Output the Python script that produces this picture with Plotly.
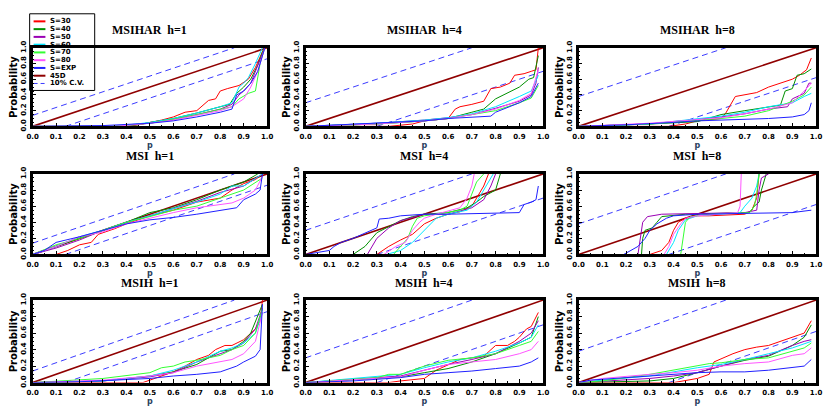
import plotly.graph_objects as go

# ---------------- data ----------------
SERIES = ["S=30", "S=40", "S=50", "S=60", "S=70", "S=80", "S=EXP"]
COLORS = ["#ff0000", "#009000", "#9a00b4", "#00e5ff", "#33ff33", "#ff55ff", "#2020ff"]
LINE_45_COLOR = "#900000"
CV_COLOR = "#3c3cff"
MODELS = ["MSIHAR", "MSI", "MSIH"]
HORIZONS = [1, 4, 8]
CV_HALFWIDTH = [0.14, 0.30, 0.38]   # 10% critical value band per horizon
P_TICKS = [0.0, 0.1, 0.2, 0.3, 0.4, 0.5, 0.6, 0.7, 0.8, 0.9, 1.0]
PROB_TICKS = [0.0, 0.2, 0.4, 0.6, 0.8, 1.0]

msihar_h1 = {
    "S=30": ([0, 0.4, 0.45, 0.5, 0.55, 0.6, 0.65, 0.7, 0.75, 0.78, 0.8, 0.83, 0.88, 0.92, 0.95, 0.98, 0.99],
             [0, 0, 0.02, 0.05, 0.08, 0.12, 0.18, 0.2, 0.33, 0.35, 0.45, 0.48, 0.52, 0.6, 0.75, 0.95, 1.0]),
    "S=40": ([0, 0.35, 0.45, 0.5, 0.6, 0.7, 0.8, 0.84, 0.87, 0.9, 0.93, 0.96, 0.98, 0.99],
             [0, 0, 0.02, 0.05, 0.1, 0.17, 0.25, 0.28, 0.42, 0.5, 0.6, 0.78, 0.95, 1.0]),
    "S=50": ([0, 0.35, 0.5, 0.6, 0.7, 0.8, 0.85, 0.88, 0.9, 0.93, 0.97, 0.99],
             [0, 0, 0.04, 0.09, 0.15, 0.22, 0.28, 0.4, 0.45, 0.55, 0.85, 1.0]),
    "S=60": ([0, 0.35, 0.5, 0.6, 0.7, 0.8, 0.85, 0.88, 0.9, 0.92, 0.95, 0.98],
             [0, 0, 0.05, 0.1, 0.17, 0.25, 0.3, 0.5, 0.55, 0.62, 0.8, 1.0]),
    "S=70": ([0, 0.35, 0.5, 0.6, 0.7, 0.8, 0.85, 0.88, 0.92, 0.95, 0.97, 0.99],
             [0, 0, 0.04, 0.09, 0.15, 0.22, 0.25, 0.35, 0.42, 0.45, 0.8, 1.0]),
    "S=80": ([0, 0.35, 0.5, 0.6, 0.7, 0.8, 0.85, 0.9, 0.93, 0.96, 0.99],
             [0, 0, 0.04, 0.08, 0.14, 0.2, 0.25, 0.35, 0.5, 0.7, 1.0]),
    "S=EXP": ([0, 0.3, 0.5, 0.6, 0.7, 0.8, 0.85, 0.87, 0.9, 0.93, 0.96, 0.99],
              [0, 0.01, 0.04, 0.07, 0.12, 0.18, 0.22, 0.4, 0.45, 0.55, 0.7, 1.0]),
}

msihar_h4 = {
    "S=30": ([0, 0.35, 0.45, 0.5, 0.6, 0.63, 0.65, 0.7, 0.75, 0.78, 0.82, 0.86, 0.88, 0.92, 0.95, 0.97, 0.98],
             [0, 0, 0.03, 0.07, 0.1, 0.22, 0.25, 0.28, 0.32, 0.48, 0.5, 0.55, 0.65, 0.67, 0.7, 0.72, 1.0]),
    "S=40": ([0, 0.3, 0.5, 0.6, 0.7, 0.75, 0.8, 0.85, 0.9, 0.94, 0.96, 0.98],
             [0, 0.03, 0.07, 0.1, 0.18, 0.22, 0.35, 0.42, 0.5, 0.6, 0.62, 0.9]),
    "S=50": ([0, 0.3, 0.5, 0.6, 0.7, 0.8, 0.9, 0.95, 0.97, 0.98],
             [0, 0.04, 0.08, 0.11, 0.15, 0.23, 0.32, 0.4, 0.55, 0.75]),
    "S=60": ([0, 0.3, 0.5, 0.6, 0.7, 0.8, 0.9, 0.95, 0.98],
             [0, 0.04, 0.08, 0.11, 0.16, 0.25, 0.38, 0.45, 0.65]),
    "S=70": ([0, 0.3, 0.5, 0.6, 0.7, 0.8, 0.9, 0.95, 0.98],
             [0, 0.03, 0.07, 0.1, 0.15, 0.2, 0.3, 0.36, 0.52]),
    "S=80": ([0, 0.3, 0.5, 0.6, 0.7, 0.8, 0.9, 0.95, 0.98],
             [0, 0.03, 0.07, 0.1, 0.15, 0.22, 0.33, 0.42, 0.72]),
    "S=EXP": ([0, 0.3, 0.5, 0.6, 0.7, 0.78, 0.8, 0.9, 0.95, 0.98],
              [0, 0.04, 0.07, 0.1, 0.12, 0.13, 0.18, 0.3, 0.38, 0.55]),
}

msihar_h8 = {
    "S=30": ([0, 0.38, 0.45, 0.5, 0.6, 0.62, 0.66, 0.7, 0.75, 0.8, 0.85, 0.88, 0.9, 0.93, 0.96, 0.98],
             [0, 0, 0.03, 0.07, 0.1, 0.17, 0.38, 0.4, 0.43, 0.5, 0.55, 0.58, 0.6, 0.65, 0.72, 0.87]),
    "S=40": ([0, 0.3, 0.5, 0.6, 0.7, 0.8, 0.85, 0.87, 0.9, 0.92, 0.95, 0.98],
             [0, 0.03, 0.06, 0.15, 0.2, 0.25, 0.27, 0.45, 0.48, 0.65, 0.67, 0.73]),
    "S=50": ([0, 0.3, 0.6, 0.7, 0.8, 0.88, 0.9, 0.95, 0.97, 0.98],
             [0, 0.03, 0.12, 0.16, 0.22, 0.25, 0.35, 0.42, 0.55, 0.55]),
    "S=60": ([0, 0.3, 0.6, 0.7, 0.8, 0.9, 0.95, 0.98],
             [0, 0.03, 0.13, 0.18, 0.25, 0.3, 0.38, 0.42]),
    "S=70": ([0, 0.3, 0.6, 0.7, 0.8, 0.9, 0.95, 0.98],
             [0, 0.03, 0.1, 0.13, 0.2, 0.32, 0.4, 0.5]),
    "S=80": ([0, 0.3, 0.6, 0.7, 0.8, 0.9, 0.95, 0.98],
             [0, 0.04, 0.11, 0.16, 0.22, 0.3, 0.45, 0.55]),
    "S=EXP": ([0, 0.2, 0.4, 0.5, 0.6, 0.8, 0.9, 0.95, 0.97, 0.98],
              [0, 0.02, 0.05, 0.07, 0.08, 0.1, 0.12, 0.15, 0.2, 0.3]),
}

msi_h1 = {
    "S=30": ([0, 0.1, 0.15, 0.2, 0.25, 0.28, 0.35, 0.4, 0.5, 0.6, 0.7, 0.8, 0.85, 0.9, 0.95, 0.98],
             [0, 0, 0.05, 0.12, 0.15, 0.25, 0.32, 0.38, 0.48, 0.55, 0.65, 0.7, 0.8, 0.88, 0.93, 1.0]),
    "S=40": ([0, 0.1, 0.2, 0.3, 0.4, 0.5, 0.6, 0.7, 0.8, 0.9, 0.96],
             [0, 0.1, 0.2, 0.3, 0.4, 0.52, 0.58, 0.68, 0.8, 0.9, 1.0]),
    "S=50": ([0, 0.1, 0.2, 0.3, 0.4, 0.5, 0.6, 0.7, 0.8, 0.9, 0.98],
             [0, 0.08, 0.18, 0.3, 0.4, 0.48, 0.57, 0.66, 0.77, 0.85, 1.0]),
    "S=60": ([0, 0.1, 0.2, 0.3, 0.4, 0.5, 0.6, 0.7, 0.8, 0.85, 0.9, 0.98],
             [0, 0.1, 0.22, 0.3, 0.4, 0.48, 0.57, 0.65, 0.75, 0.85, 0.85, 1.0]),
    "S=70": ([0, 0.1, 0.2, 0.3, 0.4, 0.5, 0.6, 0.7, 0.8, 0.9, 0.98],
             [0, 0.12, 0.2, 0.3, 0.4, 0.47, 0.55, 0.6, 0.7, 0.8, 0.95]),
    "S=80": ([0, 0.1, 0.2, 0.3, 0.4, 0.5, 0.6, 0.7, 0.8, 0.85, 0.9, 0.95, 0.98],
             [0, 0.1, 0.22, 0.28, 0.38, 0.45, 0.52, 0.58, 0.62, 0.64, 0.7, 0.8, 0.97]),
    "S=EXP": ([0, 0.05, 0.1, 0.2, 0.3, 0.4, 0.5, 0.6, 0.7, 0.8, 0.87, 0.9, 0.95, 0.97, 0.98],
              [0, 0.05, 0.15, 0.22, 0.3, 0.38, 0.43, 0.46, 0.5, 0.55, 0.58, 0.68, 0.75, 0.8, 1.0]),
}

msi_h4 = {
    "S=30": ([0.3, 0.35, 0.4, 0.45, 0.5, 0.55, 0.6, 0.65, 0.7, 0.72, 0.75, 0.77],
             [0, 0.1, 0.18, 0.25, 0.38, 0.45, 0.5, 0.53, 0.6, 0.7, 0.85, 1.0]),
    "S=40": ([0.2, 0.25, 0.3, 0.35, 0.4, 0.45, 0.5, 0.6, 0.68, 0.72, 0.75, 0.8, 0.82],
             [0, 0.1, 0.27, 0.35, 0.42, 0.47, 0.5, 0.52, 0.58, 0.65, 0.72, 0.8, 1.0]),
    "S=50": ([0.26, 0.3, 0.35, 0.4, 0.45, 0.5, 0.6, 0.7, 0.75, 0.78, 0.8],
             [0, 0.2, 0.33, 0.42, 0.46, 0.5, 0.5, 0.58, 0.68, 0.85, 1.0]),
    "S=60": ([0.34, 0.4, 0.45, 0.5, 0.55, 0.6, 0.68, 0.72, 0.76, 0.79],
             [0, 0.05, 0.15, 0.3, 0.45, 0.5, 0.55, 0.65, 0.85, 1.0]),
    "S=70": ([0.37, 0.4, 0.43, 0.45, 0.47, 0.5, 0.55, 0.65, 0.68, 0.7, 0.72, 0.75],
             [0, 0.1, 0.2, 0.35, 0.45, 0.48, 0.5, 0.55, 0.6, 0.75, 0.9, 1.0]),
    "S=80": ([0.33, 0.38, 0.42, 0.45, 0.48, 0.5, 0.55, 0.65, 0.68, 0.7, 0.71],
             [0, 0.1, 0.15, 0.3, 0.4, 0.45, 0.5, 0.58, 0.7, 0.85, 1.0]),
    "S=EXP": ([0, 0.1, 0.12, 0.15, 0.2, 0.25, 0.3, 0.31, 0.35, 0.4, 0.5, 0.6, 0.9, 0.92, 0.95, 0.97, 0.98],
              [0, 0.05, 0.1, 0.15, 0.2, 0.27, 0.33, 0.44, 0.45, 0.48, 0.5, 0.5, 0.52, 0.62, 0.65, 0.68, 0.85]),
}

msi_h8 = {
    "S=30": ([0.3, 0.35, 0.38, 0.4, 0.42, 0.45, 0.5, 0.55, 0.7, 0.73, 0.75, 0.76],
             [0, 0.05, 0.15, 0.3, 0.4, 0.45, 0.48, 0.48, 0.5, 0.55, 0.7, 1.0]),
    "S=40": ([0.265, 0.27, 0.28, 0.31, 0.33, 0.35, 0.45, 0.72, 0.74, 0.76, 0.77, 0.79],
             [0, 0.2, 0.3, 0.33, 0.4, 0.47, 0.5, 0.52, 0.6, 0.65, 0.8, 1.0]),
    "S=50": ([0.25, 0.26, 0.27, 0.29, 0.35, 0.7, 0.75, 0.76, 0.77, 0.8],
             [0, 0.2, 0.4, 0.47, 0.5, 0.52, 0.55, 0.8, 0.95, 1.0]),
    "S=60": ([0.37, 0.4, 0.42, 0.45, 0.5, 0.68, 0.7, 0.73, 0.75, 0.76],
             [0, 0.15, 0.3, 0.43, 0.48, 0.52, 0.6, 0.7, 0.85, 1.0]),
    "S=70": ([0.43, 0.44, 0.45, 0.47, 0.55, 0.72, 0.74, 0.75, 0.76],
             [0, 0.2, 0.4, 0.47, 0.5, 0.52, 0.6, 0.75, 1.0]),
    "S=80": ([0.36, 0.38, 0.4, 0.43, 0.45, 0.5, 0.67, 0.68, 0.685],
             [0, 0.1, 0.25, 0.38, 0.45, 0.48, 0.52, 0.6, 1.0]),
    "S=EXP": ([0.19, 0.22, 0.25, 0.28, 0.3, 0.33, 0.37, 0.4, 0.5, 0.9, 0.98],
              [0, 0.05, 0.1, 0.2, 0.3, 0.38, 0.45, 0.48, 0.5, 0.52, 0.55]),
}

msih_h1 = {
    "S=30": ([0, 0.47, 0.5, 0.6, 0.65, 0.7, 0.75, 0.78, 0.82, 0.85, 0.9, 0.95, 0.97, 0.98],
             [0, 0, 0.03, 0.13, 0.2, 0.28, 0.33, 0.4, 0.45, 0.45, 0.52, 0.65, 0.75, 1.0]),
    "S=40": ([0, 0.3, 0.5, 0.6, 0.7, 0.75, 0.8, 0.85, 0.9, 0.93, 0.96, 0.98],
             [0, 0.02, 0.08, 0.13, 0.22, 0.3, 0.38, 0.4, 0.5, 0.6, 0.8, 0.95]),
    "S=50": ([0, 0.3, 0.5, 0.6, 0.7, 0.8, 0.85, 0.9, 0.95, 0.98],
             [0, 0.02, 0.07, 0.12, 0.25, 0.35, 0.4, 0.48, 0.65, 0.9]),
    "S=60": ([0, 0.3, 0.5, 0.6, 0.7, 0.8, 0.85, 0.9, 0.95, 0.98],
             [0, 0.02, 0.08, 0.15, 0.25, 0.38, 0.42, 0.48, 0.6, 0.85]),
    "S=70": ([0, 0.3, 0.5, 0.55, 0.6, 0.65, 0.7, 0.75, 0.8, 0.85, 0.9, 0.95, 0.98],
             [0, 0.05, 0.12, 0.18, 0.2, 0.25, 0.27, 0.3, 0.33, 0.4, 0.45, 0.6, 0.9]),
    "S=80": ([0, 0.3, 0.5, 0.6, 0.7, 0.8, 0.85, 0.9, 0.95, 0.98],
             [0, 0.03, 0.08, 0.12, 0.2, 0.25, 0.28, 0.35, 0.5, 0.85]),
    "S=EXP": ([0, 0.2, 0.5, 0.6, 0.7, 0.8, 0.87, 0.9, 0.95, 0.97, 0.98],
              [0, 0.01, 0.05, 0.08, 0.1, 0.13, 0.2, 0.25, 0.32, 0.4, 0.95]),
}

msih_h4 = {
    "S=30": ([0, 0.35, 0.4, 0.5, 0.55, 0.6, 0.65, 0.7, 0.75, 0.8, 0.85, 0.88, 0.9, 0.93, 0.95, 0.98],
             [0, 0, 0.02, 0.05, 0.15, 0.22, 0.28, 0.3, 0.32, 0.45, 0.45, 0.5, 0.55, 0.65, 0.68, 0.85]),
    "S=40": ([0, 0.4, 0.5, 0.6, 0.7, 0.8, 0.9, 0.95, 0.98],
             [0, 0.07, 0.12, 0.17, 0.25, 0.35, 0.48, 0.55, 0.8]),
    "S=50": ([0, 0.4, 0.5, 0.6, 0.7, 0.8, 0.9, 0.95, 0.98],
             [0, 0.08, 0.15, 0.22, 0.28, 0.35, 0.5, 0.6, 0.75]),
    "S=60": ([0, 0.4, 0.5, 0.6, 0.7, 0.8, 0.9, 0.95, 0.98],
             [0, 0.1, 0.18, 0.25, 0.3, 0.38, 0.48, 0.55, 0.7]),
    "S=70": ([0, 0.3, 0.35, 0.4, 0.5, 0.6, 0.7, 0.8, 0.9, 0.95, 0.98],
             [0, 0.06, 0.1, 0.1, 0.2, 0.27, 0.3, 0.35, 0.45, 0.5, 0.62]),
    "S=80": ([0, 0.4, 0.5, 0.6, 0.7, 0.8, 0.9, 0.95, 0.98],
             [0, 0.07, 0.15, 0.22, 0.25, 0.28, 0.35, 0.4, 0.5]),
    "S=EXP": ([0, 0.2, 0.4, 0.5, 0.6, 0.7, 0.8, 0.9, 0.95, 0.98],
              [0, 0.02, 0.06, 0.1, 0.12, 0.14, 0.17, 0.2, 0.25, 0.3]),
}

msih_h8 = {
    "S=30": ([0, 0.4, 0.5, 0.55, 0.57, 0.65, 0.7, 0.75, 0.8, 0.85, 0.9, 0.95, 0.98],
             [0, 0, 0.05, 0.1, 0.25, 0.35, 0.4, 0.43, 0.45, 0.5, 0.55, 0.6, 0.75]),
    "S=40": ([0, 0.3, 0.4, 0.5, 0.6, 0.7, 0.8, 0.9, 0.95, 0.98],
             [0, 0.02, 0.05, 0.12, 0.2, 0.27, 0.32, 0.45, 0.55, 0.7]),
    "S=50": ([0, 0.3, 0.4, 0.5, 0.6, 0.7, 0.8, 0.9, 0.95, 0.98],
             [0, 0.05, 0.08, 0.12, 0.2, 0.28, 0.33, 0.45, 0.5, 0.52]),
    "S=60": ([0, 0.1, 0.3, 0.5, 0.6, 0.7, 0.8, 0.9, 0.98],
             [0, 0.03, 0.08, 0.18, 0.22, 0.28, 0.35, 0.42, 0.5]),
    "S=70": ([0, 0.1, 0.3, 0.4, 0.5, 0.55, 0.6, 0.7, 0.8, 0.9, 0.95, 0.98],
             [0, 0.02, 0.1, 0.15, 0.2, 0.23, 0.24, 0.28, 0.3, 0.38, 0.42, 0.48]),
    "S=80": ([0, 0.1, 0.3, 0.4, 0.5, 0.6, 0.7, 0.8, 0.9, 0.95, 0.98],
             [0, 0.05, 0.1, 0.12, 0.15, 0.2, 0.23, 0.25, 0.33, 0.35, 0.42]),
    "S=EXP": ([0, 0.05, 0.2, 0.3, 0.4, 0.5, 0.6, 0.7, 0.8, 0.9, 0.95, 0.98],
              [0, 0.03, 0.06, 0.08, 0.1, 0.12, 0.13, 0.13, 0.15, 0.18, 0.2, 0.28]),
}

PANELS = [
    [msihar_h1, msihar_h4, msihar_h8],
    [msi_h1, msi_h4, msi_h8],
    [msih_h1, msih_h4, msih_h8],
]

# ---------------- layout geometry (pixels) ----------------
W, H = 827, 407
COL_PX = [(27, 265), (304, 545), (581, 822)]
ROW_PX = [(42, 123), (172, 255), (302, 387)]


def px_x(v):
    return v / W


def px_y(v):
    return 1 - v / H


TITLE_FONT = dict(family="Liberation Serif", size=12, color="black", weight="bold")
TICK_FONT = dict(family="DejaVu Sans", size=7, color="black", weight="bold")
LABEL_FONT = dict(family="DejaVu Sans", size=10, color="black", weight="bold")
LEGEND_FONT = dict(family="DejaVu Sans", size=7, color="black", weight="bold")

fig = go.Figure()
layout = dict(
    width=W, height=H, autosize=False,
    margin=dict(l=0, r=0, t=0, b=0),
    paper_bgcolor="white", plot_bgcolor="rgba(0,0,0,0)",
    showlegend=False,
)
annotations = []
shapes = []

for r in range(3):
    for c in range(3):
        idx = r * 3 + c + 1
        sfx = "" if idx == 1 else str(idx)
        xa, ya = "x" + sfx, "y" + sfx
        data = PANELS[r][c]
        cv = CV_HALFWIDTH[c]
        # critical value bands
        fig.add_trace(go.Scatter(x=[0, 1 - cv], y=[cv, 1], mode="lines", xaxis=xa, yaxis=ya,
                                 line=dict(color=CV_COLOR, width=1, dash="6px,4px")))
        fig.add_trace(go.Scatter(x=[cv, 1], y=[0, 1 - cv], mode="lines", xaxis=xa, yaxis=ya,
                                 line=dict(color=CV_COLOR, width=1, dash="6px,4px")))
        # 45 degree line
        fig.add_trace(go.Scatter(x=[0, 1], y=[0, 1], mode="lines", xaxis=xa, yaxis=ya,
                                 line=dict(color=LINE_45_COLOR, width=1.6)))
        for name, col in zip(SERIES, COLORS):
            xs, ys = data[name]
            fig.add_trace(go.Scatter(x=xs, y=ys, mode="lines", name=name, xaxis=xa, yaxis=ya,
                                     line=dict(color=col, width=1)))
        x0, x1 = COL_PX[c]
        y0, y1 = ROW_PX[r]
        axis_common = dict(
            range=[0, 1], showgrid=False, zeroline=False,
            showline=True, mirror=True, linecolor="black", linewidth=2.5,
            ticks="inside", ticklen=4, tickwidth=1, tickcolor="black",
            tickfont=TICK_FONT, tickformat=".1f",
            minor=dict(ticks="inside", ticklen=2, tickcolor="black", dtick=0.05),
        )
        layout["xaxis" + sfx] = dict(
            axis_common, domain=[px_x(x0), px_x(x1)], anchor=ya,
            tickvals=P_TICKS, ticklabelstandoff=1,
            title=dict(text="p", font=dict(family="DejaVu Sans", size=8, weight="bold"), standoff=0),
        )
        layout["yaxis" + sfx] = dict(
            axis_common, domain=[px_y(y1), px_y(y0)], anchor=xa,
            tickvals=PROB_TICKS, tickangle=-90, ticklabelstandoff=1,
            title=dict(text="Probability", font=LABEL_FONT, standoff=1),
        )
        annotations.append(dict(
            text=f"{MODELS[r]}&nbsp;&nbsp;h={HORIZONS[c]}", xref="paper", yref="paper",
            x=px_x((x0 + x1) / 2), y=px_y(y0 - 18), xanchor="center", yanchor="middle",
            showarrow=False, font=TITLE_FONT,
        ))

# ---------------- manual legend (top-left) ----------------
LEG_LEFT, LEG_RIGHT, LEG_TOP, LEG_BOTTOM = 24, 90, 7, 86
shapes.append(dict(type="rect", xref="paper", yref="paper", layer="below",
                   x0=px_x(LEG_LEFT), x1=px_x(LEG_RIGHT), y0=px_y(LEG_BOTTOM), y1=px_y(LEG_TOP),
                   line=dict(color="black", width=1), fillcolor="white"))
leg_names = SERIES + ["45D", "10% C.V."]
leg_colors = COLORS + [LINE_45_COLOR, CV_COLOR]
for i, (nm, col) in enumerate(zip(leg_names, leg_colors)):
    yc = 14.8 + i * 8.0
    shapes.append(dict(type="line", xref="paper", yref="paper", layer="below",
                       x0=px_x(28), x1=px_x(40), y0=px_y(yc), y1=px_y(yc),
                       line=dict(color=col, width=2 if i < 8 else 1,
                                 dash="solid" if i < 8 else "4px,3px")))
    annotations.append(dict(text=nm, xref="paper", yref="paper", x=px_x(43), y=px_y(yc),
                            xanchor="left", yanchor="middle", showarrow=False,
                            font=LEGEND_FONT))

layout["annotations"] = annotations
layout["shapes"] = shapes
fig.update_layout(**layout)

fig.write_html("out.html", config={"displayModeBar": False},
               post_script="document.body.style.margin='0';document.body.style.overflow='hidden';")
